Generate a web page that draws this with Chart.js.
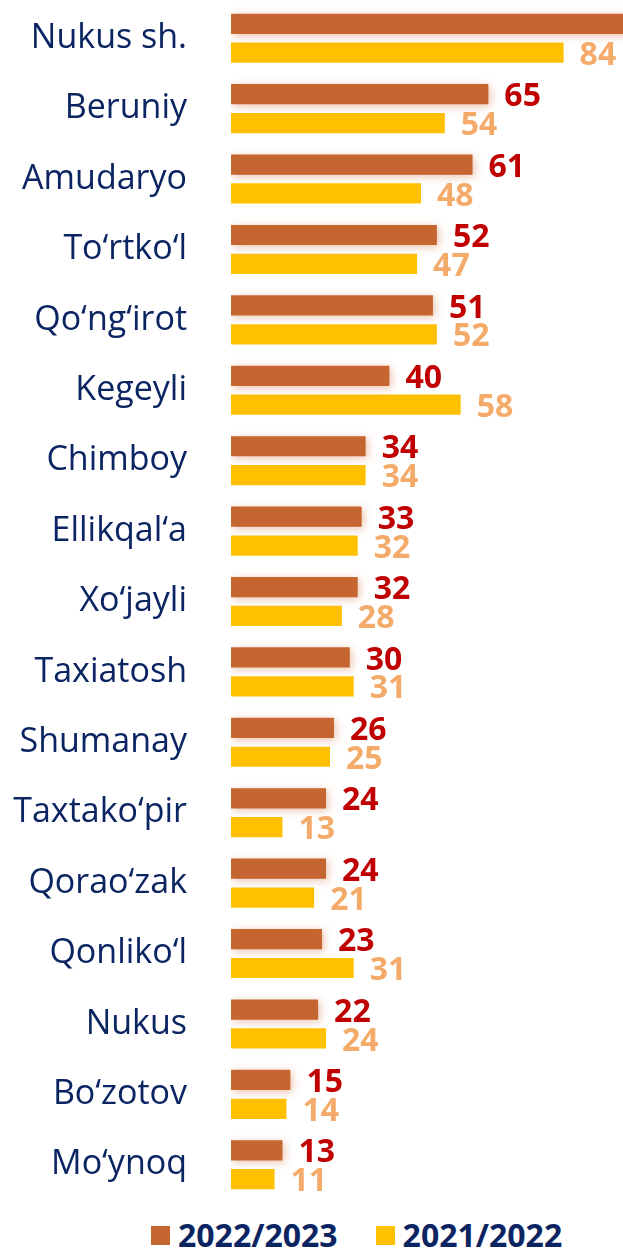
<!DOCTYPE html>
<html>
<head>
<meta charset="utf-8">
<script src="https://cdn.jsdelivr.net/npm/chart.js@4"></script>
<style>
  html, body { margin: 0; padding: 0; background: #fff; }
  #wrap { width: 623px; height: 1200px; position: relative; }
  #legend { width: 623px; height: 51px; box-sizing: border-box; padding-left: 151px; padding-top: 16px;
    display: flex; align-items: center; font-family: 'Open Sans'; font-weight: bold;
    font-size: 32px; color: #0b2462; }
  #legend .item { display: flex; align-items: center; margin-right: 38px; }
  #legend .box { width: 19px; height: 19px; margin-right: 8px; margin-top: 4px; }
  #legend .txt { position: relative; top: 1px; }
</style>
</head>
<body>
<div id="wrap"><canvas id="barChart"></canvas></div>
<div id="legend"></div>
<script>
const districts = ['Nukus sh.', 'Beruniy', 'Amudaryo', 'To‘rtko‘l', 'Qo‘ng‘irot', 'Kegeyli', 'Chimboy',
  'Ellikqal‘a', 'Xo‘jayli', 'Taxiatosh', 'Shumanay', 'Taxtako‘pir', 'Qorao‘zak', 'Qonliko‘l',
  'Nukus', 'Bo‘zotov', 'Mo‘ynoq'];
const year2023 = [104, 65, 61, 52, 51, 40, 34, 33, 32, 30, 26, 24, 24, 23, 22, 15, 13];
const year2022 = [84, 54, 48, 47, 52, 58, 34, 32, 28, 31, 25, 13, 21, 31, 24, 14, 11];
const seriesNames = ['2022/2023', '2021/2022'];

const NAVY = '#0b2462';
const barColors = ['#c5652f', '#ffc000'];
const labelColors = ['#c00000', '#f4ab6a'];

// soft glow under the darker bars
const barGlow = {
  id: 'barGlow',
  beforeDatasetDraw(chart, args) {
    const ctx = chart.ctx;
    ctx.save();
    if (args.index === 0) {
      ctx.shadowColor = 'rgba(214, 120, 70, 0.45)';
      ctx.shadowBlur = 8;
      ctx.shadowOffsetX = 2;
      ctx.shadowOffsetY = 2;
    }
  },
  afterDatasetDraw(chart) {
    chart.ctx.restore();
  }
};

// value labels at the end of each bar
const valueLabels = {
  id: 'valueLabels',
  afterDatasetsDraw(chart) {
    const ctx = chart.ctx;
    ctx.save();
    ctx.font = 'bold 32px "Open Sans"';
    ctx.textBaseline = 'middle';
    ctx.textAlign = 'left';
    chart.data.datasets.forEach((ds, i) => {
      const meta = chart.getDatasetMeta(i);
      ctx.fillStyle = labelColors[i];
      meta.data.forEach((bar, j) => {
        ctx.fillText(ds.data[j], bar.x + 16, bar.y + 3);
      });
    });
    ctx.restore();
  }
};

const ctx = document.getElementById('barChart').getContext('2d');
const myChart = new Chart(ctx, {
  type: 'bar',
  data: {
    labels: districts,
    datasets: seriesNames.map((name, i) => ({
      label: name,
      data: i === 0 ? year2023 : year2022,
      backgroundColor: barColors[i],
      categoryPercentage: 0.82,
      barPercentage: 0.7
    }))
  },
  options: {
    indexAxis: 'y',
    responsive: true,
    maintainAspectRatio: false,
    animation: false,
    layout: { padding: { top: 3, right: 0, bottom: 0, left: 0 } },
    scales: {
      x: { display: false, min: 0, max: 99 },
      y: {
        grid: { display: false },
        border: { display: false },
        ticks: {
          color: NAVY,
          font: { family: 'Open Sans', size: 34 },
          padding: 36
        },
        afterFit(scale) {
          scale.width = 231;
          scale.paddingTop = 0;
          scale.paddingBottom = 0;
        }
      }
    },
    plugins: {
      tooltip: { enabled: false },
      legend: { display: false }
    }
  },
  plugins: [barGlow, valueLabels]
});

// legend below the chart
const legendEl = document.getElementById('legend');
seriesNames.forEach((name, i) => {
  const item = document.createElement('div');
  item.className = 'item';
  item.innerHTML = '<span class="box" style="background:' + barColors[i] + '"></span><span class="txt">' + name + '</span>';
  legendEl.appendChild(item);
});
</script>
</body>
</html>
